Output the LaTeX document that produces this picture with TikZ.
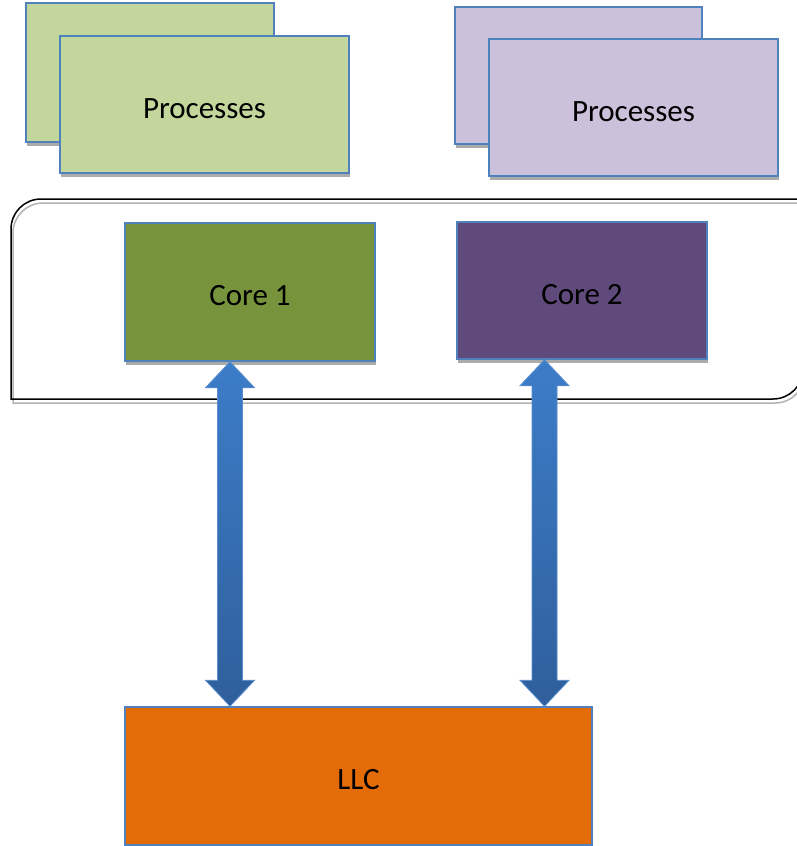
\documentclass[tikz,border=0pt]{standalone}
\usepackage{fontspec}
\setmainfont{Carlito}
\usetikzlibrary{shadows,calc,backgrounds}

\definecolor{boxedge}{HTML}{4F81BD}
\definecolor{procgreen}{HTML}{C3D69B}
\definecolor{procpurple}{HTML}{CCC1DA}
\definecolor{coregreen}{HTML}{77933C}
\definecolor{corepurple}{HTML}{604A7B}
\definecolor{llcorange}{HTML}{E36C09}
\definecolor{arrtop}{HTML}{3C7DC8}
\definecolor{arrbot}{HTML}{2F5F9C}
\definecolor{arredge}{HTML}{5A8ED0}

\tikzset{
  box/.style={draw=boxedge, line width=1.5pt, inner sep=0pt,
    font=\fontsize{31}{37}\selectfont, text=black, text height=27pt, text depth=0pt,
    drop shadow={shadow xshift=1pt, shadow yshift=-4pt, fill=black, opacity=.33}},
  cluster/.style={draw=black, line width=1.5pt},
  clustershadow/.style={draw=black!30, line width=1.5pt},
  arrowshadow/.style={fill=black, opacity=.3},
  arrowbody/.style={top color=arrtop, bottom color=arrbot, draw=arredge, line width=0.8pt},
}

% double-headed block arrow between two tip coordinates (#1 top, #2 bottom)
\newcommand\blockarrow[2]{%
  \path[arrowshadow, shift={(-1,3)}] (#1) -- ($(#1)+(24.5,26)$) -- ($(#1)+(12.5,26)$)
    -- ($(#2)+(12.5,-26)$) -- ($(#2)+(24.5,-26)$) -- (#2) -- ($(#2)+(-24.5,-26)$)
    -- ($(#2)+(-12.5,-26)$) -- ($(#1)+(-12.5,26)$) -- ($(#1)+(-24.5,26)$) -- cycle;
  \shade[arrowbody] (#1) -- ($(#1)+(24.5,26)$) -- ($(#1)+(12.5,26)$)
    -- ($(#2)+(12.5,-26)$) -- ($(#2)+(24.5,-26)$) -- (#2) -- ($(#2)+(-24.5,-26)$)
    -- ($(#2)+(-12.5,-26)$) -- ($(#1)+(-12.5,26)$) -- ($(#1)+(-24.5,26)$) -- cycle;
}

\begin{document}
\begin{tikzpicture}[x=1pt, y=-1pt]
\useasboundingbox (0,0) rectangle (797,846);

% frame around the cores: top-left and bottom-right corners rounded
\draw[cluster] (11,399) -- (11,229) arc[start angle=180, end angle=90, radius=30pt]
  -- (803,199) -- (803,369) arc[start angle=0, end angle=-90, radius=30pt] -- cycle;
\begin{scope}[on background layer, shift={(2,4)}]
  \draw[clustershadow] (11,399) -- (11,229) arc[start angle=180, end angle=90, radius=30pt]
    -- (803,199) -- (803,369) arc[start angle=0, end angle=-90, radius=30pt] -- cycle;
\end{scope}

% process stacks
\node[box, fill=procgreen, minimum width=248pt, minimum height=139pt] (proc1back) at (150,72.5) {};
\node[box, fill=procgreen, minimum width=289pt, minimum height=137pt] (proc1) at (204.5,104.5) {Processes};
\node[box, fill=procpurple, minimum width=247pt, minimum height=137pt] (proc2back) at (578.5,75.5) {};
\node[box, fill=procpurple, minimum width=289pt, minimum height=137pt] (proc2) at (633.5,107.5) {Processes};

% cores
\node[box, fill=coregreen, minimum width=250pt, minimum height=138pt] (core1) at (250,292) {Core 1};
\node[box, fill=corepurple, minimum width=250pt, minimum height=137pt] (core2) at (582,290.5) {Core 2};

% last-level cache
\node[box, fill=llcorange, minimum width=467pt, minimum height=138pt] (llc) at (358.5,776) {LLC};

% links between cores and LLC
\coordinate (a1t) at ([xshift=-20pt]core1.south);
\coordinate (a1b) at (a1t |- llc.north);
\coordinate (a2t) at ([xshift=-37.5pt]core2.south);
\coordinate (a2b) at (a2t |- llc.north);
\blockarrow{a1t}{a1b}
\blockarrow{a2t}{a2b}
\end{tikzpicture}
\end{document}
